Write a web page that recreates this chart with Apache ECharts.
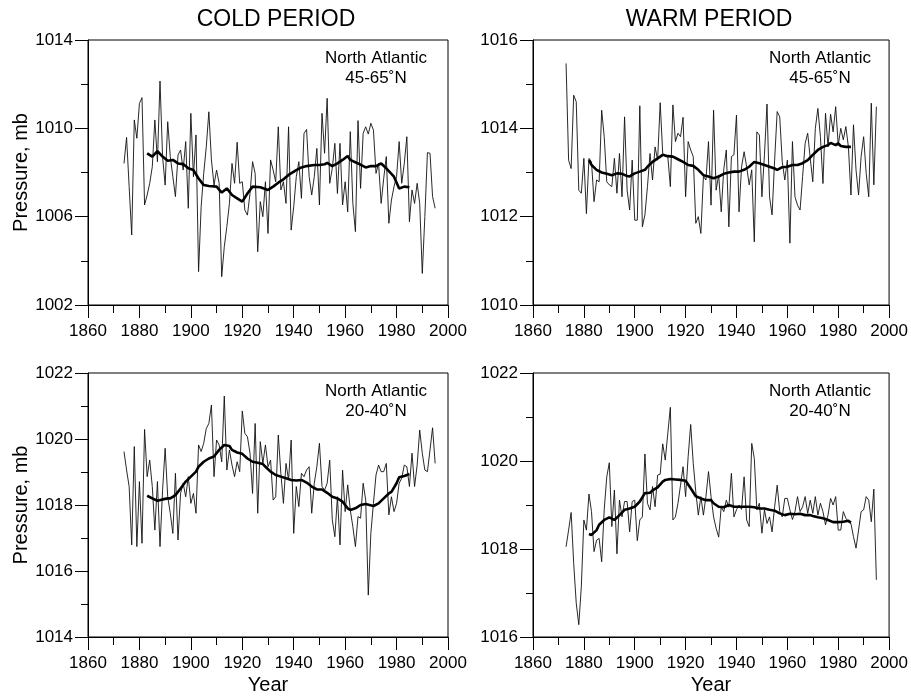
<!DOCTYPE html>
<html lang="en">
<head>
<meta charset="utf-8">
<script src="https://cdn.jsdelivr.net/npm/echarts@6/dist/echarts.min.js"></script>
<title>Sea level pressure, North Atlantic</title>
<style>
    html, body { margin: 0; background: #fff; }
    #chart { width: 911px; height: 697px; }
</style>
</head>
<body>
<div id="chart"></div>
<script>
// annual means (thin lines)
const coldNorthStart = 1874;
const coldNorth = [
    1008.41, 1009.59, 1007.36, 1005.17, 1010.38, 1009.55, 1011.13, 1011.39, 1006.53, 1006.98,
    1007.51, 1008.26, 1010.38, 1008.49, 1012.14, 1008.72, 1007.43, 1010.30, 1008.72, 1007.81,
    1006.91, 1008.79, 1009.02, 1008.11, 1009.40, 1006.38, 1010.68, 1007.81, 1009.70, 1003.51,
    1006.45, 1007.96, 1009.17, 1010.75, 1008.57, 1007.43, 1008.11, 1007.51, 1003.28, 1004.64,
    1005.55, 1006.60, 1008.41, 1007.51, 1009.37, 1007.51, 1007.58, 1006.30, 1006.07, 1007.05,
    1008.49, 1007.96, 1004.41, 1006.68, 1006.00, 1007.58, 1005.24, 1008.57, 1008.11, 1007.58,
    1010.07, 1007.21, 1007.58, 1006.60, 1010.07, 1005.39, 1006.45, 1007.81, 1008.49, 1006.83,
    1009.77, 1009.95, 1007.81, 1006.98, 1007.81, 1009.09, 1006.53, 1010.68, 1008.87, 1011.36,
    1007.51, 1008.19, 1009.32, 1007.05, 1009.32, 1006.53, 1007.58, 1006.22, 1009.85, 1006.60,
    1005.32, 1010.35, 1007.28, 1009.77, 1010.07, 1009.74, 1010.23, 1009.92, 1007.96, 1008.41,
    1006.60, 1007.73, 1008.72, 1005.70, 1006.75, 1007.36, 1007.81, 1009.40, 1007.51, 1008.41,
    1009.62, 1005.77, 1007.21, 1006.60, 1007.51, 1006.60, 1003.43, 1006.00, 1008.90, 1008.87,
    1006.91, 1006.38
];
const warmNorthStart = 1873;
const warmNorth = [
    1015.47, 1013.28, 1013.09, 1014.75, 1014.60, 1012.60, 1012.53, 1013.32, 1012.07, 1013.32,
    1013.24, 1012.34, 1012.83, 1012.79, 1014.41, 1013.81, 1012.79, 1012.72, 1012.68, 1013.32,
    1012.53, 1013.43, 1012.45, 1014.26, 1012.60, 1012.15, 1013.28, 1011.92, 1011.92, 1014.51,
    1011.77, 1012.04, 1012.68, 1013.43, 1012.83, 1013.58, 1013.28, 1014.58, 1013.43, 1013.36,
    1013.36, 1012.68, 1014.53, 1013.70, 1013.89, 1013.81, 1014.25, 1012.45, 1013.70, 1013.51,
    1013.36, 1011.85, 1012.00, 1011.62, 1012.91, 1012.83, 1013.70, 1012.26, 1014.41, 1012.60,
    1012.94, 1012.11, 1013.07, 1013.51, 1011.77, 1013.36, 1013.40, 1014.30, 1012.11, 1013.13,
    1013.47, 1013.13, 1012.72, 1013.06, 1011.43, 1013.92, 1013.85, 1012.45, 1013.40, 1014.55,
    1012.45, 1012.04, 1013.28, 1014.38, 1014.26, 1013.24, 1012.83, 1013.28, 1011.40, 1013.70,
    1012.45, 1012.26, 1012.15, 1012.91, 1013.66, 1013.89, 1013.32, 1012.79, 1014.00, 1014.45,
    1013.81, 1012.75, 1014.34, 1013.58, 1014.32, 1013.92, 1014.49, 1013.62, 1014.00, 1013.74,
    1014.04, 1013.58, 1012.49, 1014.08, 1013.06, 1012.49, 1013.36, 1013.81, 1012.98, 1012.45,
    1014.57, 1012.72, 1014.49
];
const coldSouthStart = 1874;
const coldSouth = [
    1019.62, 1019.06, 1018.56, 1016.79, 1019.77, 1016.74, 1018.71, 1016.84, 1020.29, 1018.86,
    1019.36, 1018.56, 1017.24, 1018.71, 1016.74, 1018.45, 1019.72, 1018.25, 1017.75, 1017.14,
    1018.96, 1016.94, 1018.35, 1018.66, 1018.25, 1018.86, 1018.05, 1018.35, 1017.75, 1019.82,
    1019.62, 1019.87, 1020.32, 1020.47, 1021.03, 1018.86, 1019.97, 1019.82, 1019.31, 1021.30,
    1019.06, 1019.67, 1019.21, 1018.86, 1019.31, 1019.01, 1020.85, 1020.17, 1020.07, 1019.57,
    1018.35, 1020.47, 1017.75, 1019.92, 1019.26, 1019.82, 1019.16, 1019.36, 1018.15, 1018.25,
    1020.12, 1018.96, 1018.05, 1019.26, 1018.76, 1019.97, 1017.14, 1018.56, 1017.95, 1018.96,
    1018.86, 1019.06, 1019.16, 1017.75, 1018.66, 1019.16, 1019.87, 1018.56, 1018.45, 1018.66,
    1019.36, 1017.55, 1017.04, 1018.25, 1016.79, 1019.06, 1017.80, 1018.61, 1017.85, 1017.34,
    1016.74, 1017.65, 1017.60, 1018.66, 1018.15, 1015.27, 1017.14, 1018.05, 1018.91, 1019.21,
    1019.01, 1019.01, 1019.26, 1017.70, 1018.25, 1017.80, 1018.05, 1018.66, 1018.81, 1019.21,
    1019.16, 1018.56, 1019.57, 1018.56, 1019.21, 1020.27, 1019.57, 1019.06, 1019.01, 1019.67,
    1020.34, 1019.26
];
const warmSouthStart = 1873;
const warmSouth = [
    1018.05, 1018.43, 1018.83, 1017.67, 1016.77, 1016.28, 1017.14, 1018.66, 1018.43, 1019.25,
    1018.85, 1017.94, 1018.20, 1018.24, 1017.71, 1018.89, 1019.64, 1019.96, 1018.51, 1019.34,
    1017.89, 1019.11, 1018.73, 1019.08, 1019.08, 1018.39, 1019.08, 1019.11, 1018.19, 1018.66,
    1018.73, 1020.16, 1019.04, 1018.89, 1019.42, 1018.96, 1019.68, 1019.70, 1020.39, 1020.02,
    1020.63, 1021.22, 1018.66, 1018.73, 1019.04, 1019.45, 1019.87, 1019.19, 1020.10, 1020.83,
    1019.95, 1019.30, 1018.77, 1019.19, 1018.77, 1019.20, 1019.76, 1019.19, 1018.73, 1018.47,
    1018.27, 1018.96, 1018.85, 1019.11, 1018.95, 1019.72, 1018.73, 1018.89, 1019.00, 1018.90,
    1019.64, 1018.66, 1018.51, 1020.40, 1020.06, 1018.89, 1019.04, 1018.36, 1018.89, 1018.58,
    1018.73, 1018.39, 1018.96, 1019.45, 1018.85, 1018.73, 1019.15, 1019.15, 1018.89, 1018.67,
    1018.85, 1019.19, 1018.85, 1018.96, 1019.19, 1018.81, 1019.11, 1018.81, 1019.19, 1018.77,
    1019.04, 1018.85, 1018.55, 1018.77, 1019.15, 1019.00, 1019.19, 1018.43, 1018.43, 1018.85,
    1018.70, 1018.62, 1018.58, 1018.28, 1018.02, 1018.43, 1018.85, 1018.89, 1019.19, 1019.11,
    1018.62, 1019.36, 1017.30
];

// smoothed curves (thick lines)
const coldNorthSmoothYears = [1883, 1885, 1887, 1889, 1891, 1893, 1895, 1897, 1899, 1901, 1903, 1905, 1907, 1910, 1912, 1914, 1916, 1918, 1920, 1922, 1924, 1927, 1930, 1932, 1934, 1936, 1938, 1941, 1943, 1945, 1948, 1950, 1952, 1953, 1955, 1957, 1959, 1961, 1962, 1965, 1968, 1970, 1972, 1974, 1976, 1979, 1981, 1983, 1985];
const coldNorthSmooth = [1008.87, 1008.72, 1008.97, 1008.72, 1008.53, 1008.57, 1008.41, 1008.38, 1008.19, 1008.11, 1007.73, 1007.43, 1007.39, 1007.36, 1007.09, 1007.28, 1006.98, 1006.83, 1006.68, 1007.05, 1007.36, 1007.33, 1007.21, 1007.36, 1007.54, 1007.69, 1007.89, 1008.11, 1008.23, 1008.29, 1008.34, 1008.34, 1008.37, 1008.44, 1008.29, 1008.41, 1008.57, 1008.75, 1008.57, 1008.41, 1008.23, 1008.29, 1008.29, 1008.41, 1008.19, 1007.81, 1007.28, 1007.36, 1007.33];
const warmNorthSmoothYears = [1882, 1883, 1885, 1887, 1889, 1891, 1893, 1895, 1897, 1898, 1900, 1902, 1904, 1905, 1907, 1909, 1911, 1913, 1915, 1917, 1919, 1921, 1923, 1925, 1927, 1929, 1931, 1933, 1935, 1937, 1939, 1941, 1943, 1945, 1947, 1949, 1951, 1953, 1955, 1956, 1958, 1960, 1962, 1964, 1966, 1968, 1970, 1972, 1974, 1976, 1977, 1979, 1980, 1981, 1983, 1985];
const warmNorthSmooth = [1013.28, 1013.17, 1013.06, 1013.00, 1012.97, 1012.94, 1012.98, 1012.97, 1012.92, 1012.91, 1012.98, 1013.02, 1013.06, 1013.13, 1013.24, 1013.32, 1013.40, 1013.37, 1013.36, 1013.30, 1013.24, 1013.17, 1013.15, 1013.06, 1012.94, 1012.91, 1012.87, 1012.91, 1012.97, 1013.00, 1013.02, 1013.02, 1013.06, 1013.13, 1013.24, 1013.21, 1013.17, 1013.13, 1013.09, 1013.06, 1013.12, 1013.13, 1013.17, 1013.17, 1013.21, 1013.28, 1013.40, 1013.51, 1013.58, 1013.62, 1013.67, 1013.62, 1013.66, 1013.60, 1013.58, 1013.58];
const coldSouthSmoothYears = [1883, 1885, 1887, 1889, 1891, 1892, 1894, 1896, 1898, 1900, 1902, 1903, 1905, 1907, 1909, 1911, 1913, 1915, 1916, 1918, 1920, 1922, 1924, 1926, 1928, 1929, 1931, 1933, 1935, 1937, 1939, 1941, 1943, 1945, 1947, 1949, 1951, 1953, 1955, 1957, 1959, 1961, 1962, 1964, 1966, 1968, 1971, 1973, 1975, 1977, 1978, 1980, 1981, 1983, 1985];
const coldSouthSmooth = [1018.28, 1018.20, 1018.13, 1018.17, 1018.20, 1018.20, 1018.30, 1018.50, 1018.71, 1018.86, 1019.01, 1019.16, 1019.31, 1019.41, 1019.47, 1019.67, 1019.82, 1019.79, 1019.67, 1019.59, 1019.55, 1019.41, 1019.31, 1019.28, 1019.24, 1019.16, 1019.01, 1018.91, 1018.86, 1018.81, 1018.76, 1018.74, 1018.76, 1018.68, 1018.56, 1018.47, 1018.47, 1018.37, 1018.25, 1018.20, 1018.10, 1017.90, 1017.85, 1017.90, 1018.00, 1018.03, 1017.97, 1018.05, 1018.20, 1018.35, 1018.40, 1018.66, 1018.84, 1018.88, 1018.94];
const warmSouthSmoothYears = [1882, 1883, 1885, 1886, 1888, 1890, 1892, 1894, 1896, 1898, 1900, 1902, 1904, 1906, 1907, 1909, 1911, 1912, 1914, 1916, 1918, 1920, 1922, 1924, 1926, 1928, 1930, 1931, 1933, 1935, 1937, 1939, 1941, 1943, 1945, 1947, 1949, 1951, 1953, 1955, 1957, 1959, 1961, 1963, 1965, 1967, 1969, 1970, 1972, 1974, 1976, 1978, 1980, 1982, 1984, 1985];
const warmSouthSmooth = [1018.34, 1018.32, 1018.43, 1018.55, 1018.66, 1018.72, 1018.66, 1018.77, 1018.89, 1018.92, 1018.96, 1019.08, 1019.27, 1019.28, 1019.33, 1019.40, 1019.53, 1019.57, 1019.59, 1019.58, 1019.57, 1019.55, 1019.38, 1019.20, 1019.15, 1019.11, 1019.11, 1019.04, 1018.96, 1018.95, 1019.00, 1018.96, 1018.96, 1018.96, 1018.96, 1018.95, 1018.92, 1018.92, 1018.89, 1018.87, 1018.81, 1018.77, 1018.80, 1018.79, 1018.80, 1018.77, 1018.77, 1018.75, 1018.72, 1018.70, 1018.66, 1018.61, 1018.61, 1018.62, 1018.64, 1018.60];

// axis ranges and tick labels per panel
const yRanges = [[1002, 1014], [1010, 1016], [1014, 1022], [1016, 1022]];
const yLabels = [
    [1002, 1006, 1010, 1014],
    [1010, 1012, 1014, 1016],
    [1014, 1016, 1018, 1020, 1022],
    [1016, 1018, 1020, 1022]
];
const yMinorStep = [2, 1, 1, 1];
const panelTitles = ['COLD PERIOD', 'WARM PERIOD'];
const titleCenters = [271, 704];
const regionLabels = ['North Atlantic\n45-65˚N', 'North Atlantic\n45-65˚N', 'North Atlantic\n20-40˚N', 'North Atlantic\n20-40˚N'];

const font = 'Liberation Sans, Arial, Helvetica, sans-serif';
const black = '#000';
const plain = v => String(v);

const grids = [
    {left: 88, top: 40, width: 360, height: 265},
    {left: 533, top: 40, width: 359, height: 265},
    {left: 88, top: 373, width: 360, height: 264},
    {left: 533, top: 373, width: 359, height: 264}
];

function pairs(start, values) {
    return values.map((v, i) => [start + i, v]);
}
function zip(years, values) {
    return years.map((y, i) => [y, values[i]]);
}

const thin = [pairs(coldNorthStart, coldNorth), pairs(warmNorthStart, warmNorth),
    pairs(coldSouthStart, coldSouth), pairs(warmSouthStart, warmSouth)];
const thick = [zip(coldNorthSmoothYears, coldNorthSmooth), zip(warmNorthSmoothYears, warmNorthSmooth),
    zip(coldSouthSmoothYears, coldSouthSmooth), zip(warmSouthSmoothYears, warmSouthSmooth)];

const xAxes = [], yAxes = [], series = [], graphics = [];

grids.forEach(function (g, k) {
    g.show = true;
    g.borderColor = black;
    g.borderWidth = 1;

    xAxes.push({
        type: 'value', gridIndex: k, min: 1860, max: 2000, interval: 20,
        axisLine: {lineStyle: {color: black, width: 1}},
        axisTick: {length: 13, lineStyle: {color: black}},
        minorTick: {show: true, splitNumber: 2, length: 8, lineStyle: {color: black}},
        axisLabel: {color: black, fontSize: 17, fontFamily: font, margin: 18, formatter: plain},
        splitLine: {show: false},
        name: k >= 2 ? 'Year' : '',
        nameLocation: 'middle', nameGap: 38,
        nameTextStyle: {color: black, fontSize: 20, fontFamily: font}
    });

    // labelled ticks
    yAxes.push({
        type: 'value', gridIndex: k, position: 'left',
        min: yRanges[k][0], max: yRanges[k][1], interval: yMinorStep[k],
        axisLine: {show: true, lineStyle: {color: black, width: 1}},
        axisTick: {show: true, customValues: yLabels[k], length: 13, lineStyle: {color: black}},
        axisLabel: {customValues: yLabels[k], color: black, fontSize: 17, fontFamily: font, margin: 15, formatter: plain},
        splitLine: {show: false},
        name: k % 2 === 0 ? 'Pressure, mb' : '',
        nameLocation: 'middle', nameGap: 56, nameRotate: 90,
        nameTextStyle: {color: black, fontSize: 20, fontFamily: font}
    });
    // short ticks
    yAxes.push({
        type: 'value', gridIndex: k, position: 'left',
        min: yRanges[k][0], max: yRanges[k][1], interval: yMinorStep[k],
        axisLine: {show: false},
        axisTick: {show: true, length: 7, lineStyle: {color: black}},
        axisLabel: {show: false},
        splitLine: {show: false}
    });

    series.push({
        type: 'line', xAxisIndex: k, yAxisIndex: 2 * k, data: thin[k],
        symbol: 'none', lineStyle: {color: '#111', width: 0.9}, z: 2
    });
    series.push({
        type: 'line', xAxisIndex: k, yAxisIndex: 2 * k, data: thick[k],
        symbol: 'none', lineStyle: {color: black, width: 2.6}, z: 3
    });

    graphics.push({
        type: 'text',
        left: g.left + g.width - 72 - 55,
        top: g.top + 8,
        style: {
            text: regionLabels[k], font: '17px ' + font, fill: black,
            textAlign: 'center', lineHeight: 20, width: 110
        }
    });
});

const titles = panelTitles.map(function (t, i) {
    return {
        text: t, left: titleCenters[i], top: 3, textAlign: 'center',
        textStyle: {fontSize: 23, fontWeight: 'normal', color: black, fontFamily: font}
    };
});

const chart = echarts.init(document.getElementById('chart'), null, {renderer: 'canvas'});
chart.setOption({
    animation: false,
    backgroundColor: '#fff',
    title: titles,
    grid: grids,
    xAxis: xAxes,
    yAxis: yAxes,
    series: series,
    graphic: graphics
});
</script>
</body>
</html>
